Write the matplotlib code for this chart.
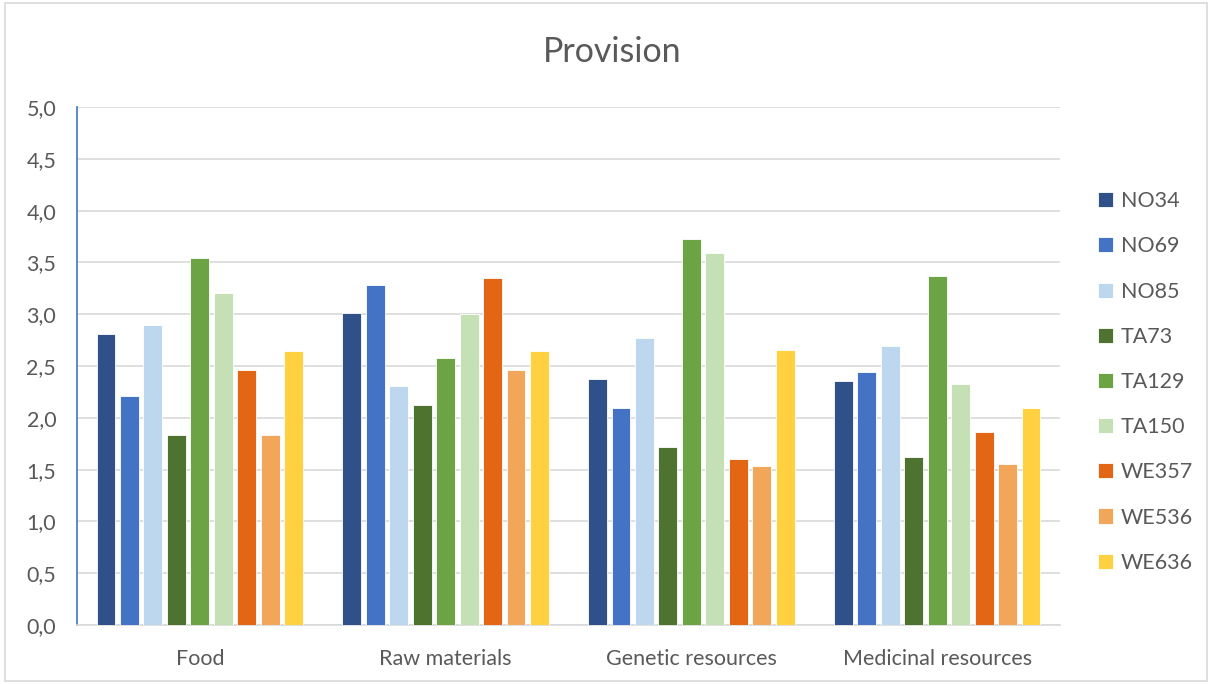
import matplotlib
matplotlib.use("Agg")
import matplotlib.pyplot as plt
import numpy as np

categories = ["Food", "Raw materials", "Genetic resources", "Medicinal resources"]
series_names = ["NO34", "NO69", "NO85", "TA73", "TA129", "TA150", "WE357", "WE536", "WE636"]

NO34 = [2.81, 3.01, 2.37, 2.36]
NO69 = [2.21, 3.28, 2.09, 2.44]
NO85 = [2.90, 2.31, 2.77, 2.69]
TA73 = [1.83, 2.12, 1.72, 1.62]
TA129 = [3.54, 2.58, 3.73, 3.37]
TA150 = [3.20, 3.00, 3.59, 2.33]
WE357 = [2.46, 3.35, 1.60, 1.86]
WE536 = [1.83, 2.46, 1.53, 1.55]
WE636 = [2.64, 2.64, 2.65, 2.09]

series_values = [NO34, NO69, NO85, TA73, TA129, TA150, WE357, WE536, WE636]
colors = ["#2F5089", "#4472C4", "#BDD7EE", "#4E7331", "#6CA445",
          "#C5E0B4", "#E26614", "#F2A65A", "#FFD03F"]

y_ticks = [0.0, 0.5, 1.0, 1.5, 2.0, 2.5, 3.0, 3.5, 4.0, 4.5, 5.0]
y_tick_labels = [f"{v:.1f}".replace(".", ",") for v in y_ticks]

plt.rcParams["font.family"] = ["Lato", "DejaVu Sans"]
text_color = "#595959"

fig = plt.figure(figsize=(12.12, 6.84), dpi=100)
ax = fig.add_axes([77 / 1212, 1 - 625 / 684, 983 / 1212, 518 / 684])

x = np.arange(len(categories))
pitch = 0.0955
width = 0.077
for i, (name, vals, c) in enumerate(zip(series_names, series_values, colors)):
    offs = (i - (len(series_names) - 1) / 2) * pitch
    ax.bar(x + offs, vals, width=width, color=c, edgecolor="white",
           linewidth=0.6, label=name, zorder=3)

ax.set_xlim(-0.5, len(categories) - 0.5)
ax.set_ylim(0, 5.0)
ax.set_yticks(y_ticks)
ax.set_yticklabels(y_tick_labels)
ax.set_xticks(x)
ax.set_xticklabels(categories)
ax.tick_params(axis="both", length=0, labelsize=15.5, colors=text_color)
ax.tick_params(axis="y", pad=15)
ax.tick_params(axis="x", pad=17)
ax.grid(axis="y", color="#D9D9D9", linewidth=1.2, zorder=0)
for s in ["top", "right"]:
    ax.spines[s].set_visible(False)
ax.spines["left"].set_color("#4472C4")
ax.spines["left"].set_linewidth(1.2)
ax.spines["bottom"].set_color("#D9D9D9")
ax.spines["bottom"].set_linewidth(1.2)

fig.text(612 / 1212, 1 - 52 / 684, "Provision", ha="center", va="center",
         fontsize=24.5, color=text_color)

leg = fig.legend(loc="center left", bbox_to_anchor=(1098 / 1212, 1 - 382 / 684),
                 frameon=False, fontsize=15.5, labelcolor=text_color,
                 handlelength=0.7, handleheight=0.7, handletextpad=0.35,
                 labelspacing=1.17, borderpad=0, borderaxespad=0)

# light chart border
border = plt.Rectangle((0.004, 0.004), 0.992, 0.992, transform=fig.transFigure,
                       fill=False, edgecolor="#D9D9D9", linewidth=1.2)
fig.patches.append(border)

fig.savefig("out.png", dpi=100)
